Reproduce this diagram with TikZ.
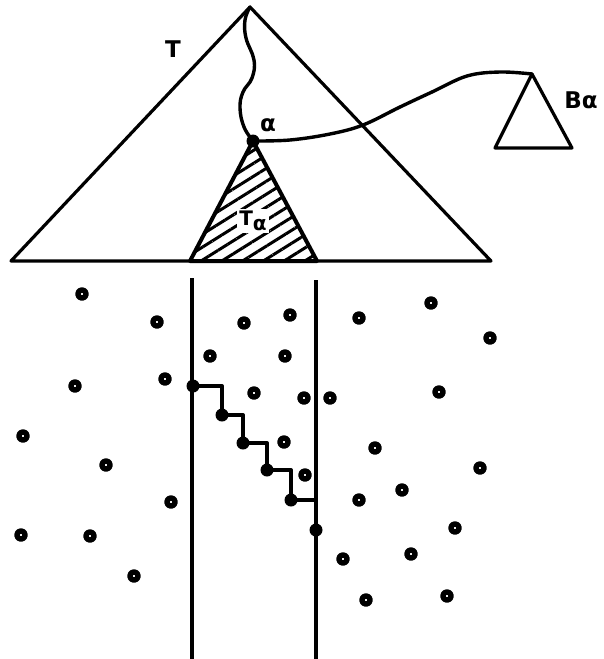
\documentclass[tikz,border=0pt]{standalone}
\usepackage{fontspec}
\newfontfamily\lblfont{DejaVu Sans}
\usetikzlibrary{patterns.meta}

\begin{document}
\begin{tikzpicture}[x=1pt, y=-1pt, line join=round,
  tri/.style={line width=3.2pt},
  wig/.style={line width=3.4pt, line cap=round},
  cut/.style={line width=4pt},
  dot/.style={circle, fill, inner sep=0pt, minimum size=13pt},
  pt/.style={circle, draw, line width=5.4pt, inner sep=0pt, minimum size=8.4pt},
  lbl/.style={font=\lblfont\bfseries\fontsize{23}{23}\selectfont, inner sep=1pt}
]
\useasboundingbox (0,0) rectangle (604,659);

% the tree T
\coordinate (top) at (250,7);
\coordinate (bl) at (11,261);
\coordinate (br) at (491,261);
\draw[tri] (bl) -- (top) -- (br) -- cycle;
\node[lbl] (T) at (173,49) {T};

% subtree T_alpha
\node[dot] (alpha) at (253,141) {};
\coordinate (ta1) at (190,261);
\coordinate (ta2) at (317,261);
\draw[cut, pattern={Lines[angle=32, distance=11pt, line width=3pt]}]
  (alpha.center) -- (ta1) -- (ta2) -- cycle;
\node[lbl, fill=white, inner sep=2pt] (Ta) at (253,221)
  {\fontsize{20}{20}\selectfont T\raisebox{-5pt}{α}};
\node[lbl] (alab) at (268,125) {α};

% path from the root to alpha
\draw[wig] plot[smooth, tension=0.7] coordinates
  {(top) (245,20) (246,38) (254,60) (252,78) (243,92) (240,108) (244,127) (alpha)};

% B_alpha
\coordinate (btop) at (532,74);
\coordinate (bbl) at (495,148);
\coordinate (bbr) at (572,148);
\draw[tri] (bbl) -- (btop) -- (bbr) -- cycle;
\node[lbl] (Ba) at (581,100) {Bα};
\draw[wig] plot[smooth, tension=0.6] coordinates
  {(alpha) (290,140) (330,134) (363,125) (400,107) (432,92) (467,76) (500,72) (btop)};

% the two vertical lines
\coordinate (lt) at (192,278);
\coordinate (lb) at (192,659);
\coordinate (rt) at (316,280);
\coordinate (rb) at (316,659);
\draw[cut] (lt) -- (lb);
\draw[cut] (rt) -- (rb);

% staircase
\node[dot] (s1) at (193,386) {};
\node[dot] (s2) at (222,415) {};
\node[dot] (s3) at (243,443) {};
\node[dot] (s4) at (267,470) {};
\node[dot] (s5) at (291,500) {};
\node[dot] (s6) at (316,530) {};
\draw[cut] (s1.center) -| (s2.center) -| (s3.center) -| (s4.center) -| (s5.center)
  -- (s5.center -| rt);

% points
\foreach \x/\y [count=\i] in {82/294, 157/322, 75/386, 165/379, 23/436, 106/465,
    171/502, 21/535, 90/536, 134/576,
    244/323, 290/315, 210/356, 285/356, 254/393, 304/398, 284/442, 305/475,
    330/398, 359/318, 431/303, 490/338, 439/392, 375/448, 480/468, 402/490,
    359/500, 455/528, 343/559, 411/554, 366/600, 447/596}
  \node[pt] (p\i) at (\x,\y) {};
\end{tikzpicture}
\end{document}
